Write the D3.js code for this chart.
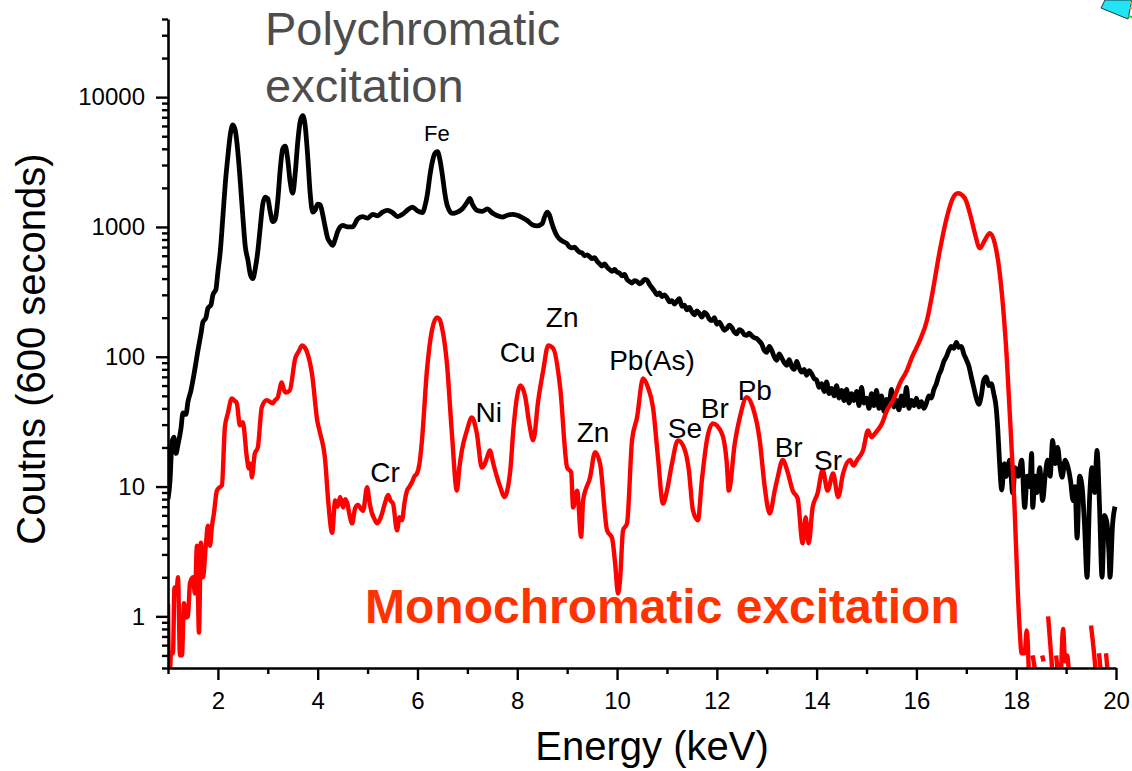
<!DOCTYPE html>
<html><head><meta charset="utf-8">
<script src="https://cdn.jsdelivr.net/npm/d3@7"></script>
<style>
html,body{margin:0;padding:0;background:#fff;}
svg{display:block;font-family:"Liberation Sans",Arial,Helvetica,sans-serif;}
</style></head>
<body>
<svg id="chart" width="1132" height="771"></svg>
<script>
// ---------- DATA ----------
const polyEnergy = [
1.00,1.04,1.08,1.12,1.16,1.20,1.26,1.30,1.36,1.40,
1.46,1.50,1.56,1.60,1.66,1.70,1.76,1.80,1.86,1.90,
1.96,2.00,2.05,2.10,2.15,2.20,2.25,2.30,2.35,2.40,
2.45,2.50,2.55,2.60,2.65,2.70,2.75,2.80,2.85,2.90,
2.95,3.00,3.05,3.10,3.15,3.20,3.25,3.30,3.35,3.40,
3.45,3.50,3.55,3.60,3.65,3.70,3.75,3.80,3.85,3.90,
3.95,4.00,4.05,4.10,4.15,4.20,4.25,4.30,4.35,4.40,
4.45,4.50,4.60,4.70,4.80,4.90,5.00,5.10,5.20,5.30,
5.40,5.50,5.60,5.70,5.80,5.90,6.00,6.10,6.15,6.20,
6.25,6.30,6.35,6.40,6.45,6.50,6.55,6.60,6.70,6.80,
6.90,7.00,7.05,7.10,7.20,7.30,7.40,7.50,7.60,7.70,
7.80,7.90,8.00,8.10,8.20,8.30,8.40,8.50,8.55,8.60,
8.65,8.70,8.80,8.90,
9.00,9.05,9.10,9.15,9.20,9.25,9.30,9.35,9.40,9.45,
9.50,9.55,9.60,9.65,9.70,9.75,9.80,9.85,9.90,9.95,
10.00,10.05,10.10,10.15,10.20,10.25,10.30,10.35,10.40,10.45,
10.50,10.55,10.60,10.65,10.70,10.75,10.80,10.85,10.90,10.95,
11.00,11.05,11.10,11.15,11.20,11.25,11.30,11.35,11.40,11.45,
11.50,11.55,11.60,11.65,11.70,11.75,11.80,11.85,11.90,11.95,
12.00,12.05,12.10,12.15,12.20,12.25,12.30,12.35,12.40,12.45,
12.50,12.55,12.60,12.65,12.70,12.75,12.80,12.85,12.90,12.95,
13.00,13.05,13.10,13.15,13.20,13.25,13.30,13.35,13.40,13.45,
13.50,13.55,13.60,13.65,13.70,13.75,13.80,13.85,13.90,13.95,
14.00,14.05,14.10,14.15,14.20,14.25,
14.30,14.35,14.40,14.45,14.50,14.55,14.60,14.65,14.70,14.75,
14.80,14.85,14.90,14.95,15.00,15.05,15.10,15.15,15.20,15.25,
15.30,15.35,15.40,15.45,15.50,15.55,15.60,15.65,15.70,15.75,
15.80,15.85,15.90,15.95,16.00,16.05,16.10,16.15,16.20,16.25,
16.30,16.35,16.40,16.45,16.50,16.55,16.60,16.65,16.70,16.75,
16.80,16.85,16.90,16.95,17.00,17.05,17.10,17.15,17.20,17.25,
17.30,17.35,17.40,17.45,17.50,17.55,17.60,17.63,17.66,17.71,
17.76,17.80,17.87,17.93,17.98,18.04,18.11,18.17,18.22,18.27,
18.31,18.33,18.38,18.42,18.47,18.53,18.58,18.63,18.68,18.73,
18.78,18.83,18.88,18.92,18.98,19.04,19.09,19.14,19.18,19.22,
19.27,19.32,19.37,19.42,19.47,19.52,19.57,19.62,19.67,19.72,
19.77,19.82,19.86,19.88,19.93,19.98
];
const polyCounts = [
8,11,22,24,18,21,28,37,36,45,
55,66,90,112,150,185,200,236,250,300,
330,450,662,1200,2200,3500,5200,6100,5500,3800,
2200,1200,700,560,430,400,480,650,1000,1500,
1700,1650,1300,1100,1150,1600,2800,4000,4200,3300,
2200,1820,2600,4500,6500,7200,6000,3500,1800,1300,
1350,1500,1480,1250,1000,820,760,720,800,920,
1000,1030,1000,1000,1150,1200,1170,1250,1220,1300,
1340,1290,1200,1250,1350,1420,1330,1290,1450,1800,
2500,3200,3700,3800,3300,2500,1800,1450,1270,1300,
1380,1560,1660,1500,1340,1320,1380,1280,1220,1190,
1230,1250,1230,1180,1120,1040,1020,1060,1200,1300,
1220,1050,850,780,
740,700,690,700,665,640,630,600,610,590,
570,580,545,520,500,520,490,470,455,470,
450,440,420,430,395,380,370,385,380,365,
375,395,390,360,340,320,300,310,290,300,
285,265,270,255,268,280,245,250,230,240,
222,210,226,215,202,220,212,195,190,200,
178,185,172,160,165,175,168,155,150,162,
158,148,146,152,145,140,138,132,125,112,
108,120,112,100,94,105,98,90,86,95,
84,80,92,82,76,80,72,78,74,68,
66,58,62,54,64,52,
57,50,60,48,55,46,56,44,52,46,
54,42,58,44,48,40,52,42,55,40,
50,38,47,42,56,41,46,39,50,42,
58,40,46,42,48,41,45,40,44,50,
48,56,62,72,80,92,100,112,120,116,
129,118,120,105,95,85,70,58,48,43,
50,66,70,60,62,52,40,28,17,9.4,
15,12,16,8.9,14,12,16,6.9,12,10,
18,6.9,12,9,14,7.8,12,16,12,22.7,
15,20,14,11.8,16,14,11,7.8,10,4,
12,10,5,2,8,14,9,19,7,2,
6,5.2,3,2,5,7
];

const monoEnergy = [
1.00,1.03,1.06,1.10,1.13,1.17,1.20,1.24,1.28,1.32,
1.36,1.40,1.44,1.50,1.54,1.58,1.62,1.66,1.70,1.76,
1.80,1.84,1.88,1.92,1.98,2.04,2.08,2.14,2.20,2.28,
2.33,2.38,2.44,2.50,2.58,2.62,2.66,2.68,2.74,2.80,
2.88,2.98,3.10,3.14,3.20,3.28,3.32,3.36,3.44,3.55,
3.62,3.69,3.74,3.79,3.89,3.99,4.05,4.15,4.21,4.29,
4.35,4.40,4.45,4.51,4.55,4.59,4.64,4.69,4.75,4.81,
4.86,4.91,4.99,5.04,5.09,5.14,5.19,5.24,5.29,5.35,
5.41,5.46,5.51,5.59,5.64,5.69,5.74,5.79,5.84,5.89,
5.94,5.99,6.04,6.09,6.19,6.29,6.39,6.44,6.49,6.59,
6.69,6.79,6.84,6.89,6.99,7.09,7.19,7.29,7.35,7.40,
7.45,7.52,7.59,7.66,7.74,7.86,7.92,8.06,8.16,8.24,
8.32,8.42,8.52,8.62,8.72,8.86,9.00,9.08,9.12,9.20,
9.28,9.32,9.46,9.56,9.66,9.80,9.90,9.96,10.02,10.06,
10.12,10.20,10.30,10.40,10.52,10.62,10.72,10.82,10.92,11.00,
11.10,11.22,11.34,11.44,11.52,11.62,11.70,11.80,11.92,12.10,
12.20,12.24,12.36,12.46,12.60,12.72,12.86,12.96,13.06,13.16,
13.22,13.32,13.42,13.52,13.62,13.72,13.78,13.84,13.92,14.02,
14.12,14.22,14.33,14.43,14.53,14.67,14.74,14.81,14.93,15.03,
15.10,15.17,15.31,15.41,15.53,15.67,15.81,15.91,16.07,16.21,
16.33,16.47,16.61,16.73,16.83,16.97,17.07,17.17,17.27,17.37,
17.47,17.57,17.67,17.81,17.91,17.96,18.02,18.07,18.11,18.17,
18.21,18.26,18.30,18.33,18.38,18.40,18.52,18.55,18.57,18.64,
18.70,18.73,18.76,18.80,18.84,18.86,18.90,18.94,18.98,19.02,
19.06,19.08,19.50,19.56,19.60,19.62,19.66,19.70,19.72,19.80,
19.84
];
const monoCounts = [
1.25,0.3,0.52,0.52,1.67,1.5,2.0,0.5,0.5,1.26,
0.98,1.0,1.8,2.0,1.5,3.5,0.75,3.7,2.0,3.6,
5.0,3.5,4.9,6.2,9.3,9.9,10.2,28.6,36.7,47.8,
46,43.8,29.6,31.3,16.8,13.8,15,11.8,18,20,
40.8,46.2,43.8,46,48.7,63.4,56,53,55,97,
110,122,118,108,72,32.5,25.7,15.9,7.8,4.4,
7.8,7.0,8.3,6.9,8.0,7.5,6.0,5.2,6.8,7.2,
6.8,6.5,9.9,7.5,6.2,5.6,5.2,5.5,6.2,7.5,
8.6,7.8,7.4,4.6,5.8,5.5,7.5,9.3,10,10.8,
12,12.6,15,22.7,78.6,160,201,195,169,89,
25.7,9.3,14,19,27,34,25.7,14,15,17,
19,15,12,9.9,8.3,13.3,27,60,49,30.6,
22.7,46,78.6,122,116,58,14,12.9,6.9,9.3,
4.1,7.8,11.8,18.4,15,4.6,4.0,2.6,1.5,1.9,
4.6,5.2,22.7,34,68,58,40.8,16.8,7.4,9.3,
15,22.7,20,13.3,6.6,5.5,11.2,22.7,30.6,25.7,
15,9.3,21.6,34,48.7,40.8,22.7,9.9,6.2,9.3,
11.8,16,12.9,9.3,8.1,3.65,5.8,3.65,6.9,8.9,
13.4,9.3,12.6,8.3,12.6,16,14.5,16,19,27,
24,25.7,30.6,38.7,46,62.5,78.6,99,134,190,
325,662,1189,1667,1820,1667,1281,897,686,790,
897,750,440,99,19,8,2.0,0.78,0.52,0.52,
0.78,0.3,null,0.5,0.38,null,0.5,0.45,null,1.0,
0.5,0.35,null,0.5,0.35,null,0.38,0.8,0.45,0.5,
0.35,null,0.85,0.52,0.35,null,0.52,0.35,null,0.52,
0.35
];

const peakLabels  = ["Fe","Cr","Ni","Cu","Zn","Zn","Pb(As)","Se","Br","Pb","Br","Sr"];
const peakEnergy  = [6.39,5.35,7.43,8.01,8.90,9.52,10.70,11.36,11.96,12.76,13.44,14.23];
const peakCounts  = [4580,10.8,31.3,90.7,169,21.9,78.7,23.5,33.6,46.2,16.8,13.3];

const xMajorTicks = [2,4,6,8,10,12,14,16,18,20];
const xMinorTicks = [1,3,5,7,9,11,13,15,17,19];
const yMajorTicks = [1,10,100,1000,10000];
const yMinorTicks = [0.4,0.5,0.6,0.7,0.8,0.9,2,3,4,5,6,7,8,9,20,30,40,50,60,70,80,90,
  200,300,400,500,600,700,800,900,2000,3000,4000,5000,6000,7000,8000,9000,20000,30000,40000];

const xTitle = "Energy (keV)";
const yTitle = "Coutns (600 seconds)";
const polyTitle = ["Polychromatic","excitation"];
const monoTitle = "Monochromatic excitation";

// ---------- CHART ----------
const svg = d3.select("#chart");
const L = 168, R = 1116, T = 19, B = 668;
const x = d3.scaleLinear().domain([1,20]).range([L,R]);
const y = d3.scaleLog().domain([0.4,40000]).range([B,T]);

const defs = svg.append("defs");
defs.append("clipPath").attr("id","plotclip").append("rect")
  .attr("x",L).attr("y",T-5).attr("width",R-L+6).attr("height",B-T+5);

// lines
const poly = polyEnergy.map((e,i)=>({e, v: polyCounts[i]}));
const mono = monoEnergy.map((e,i)=>({e, v: monoCounts[i]}));
const line = d3.line()
  .defined(d => d.v != null)
  .x(d => x(d.e))
  .y(d => y(Math.max(d.v, 0.2)))
  .curve(d3.curveMonotoneX);

const g = svg.append("g").attr("clip-path","url(#plotclip)");
g.append("path").datum(poly).attr("d",line)
  .attr("fill","none").attr("stroke","#000").attr("stroke-width",4.8)
  .attr("stroke-linejoin","round");
g.append("path").datum(mono).attr("d",line)
  .attr("fill","none").attr("stroke","#ff0000").attr("stroke-width",4.4)
  .attr("stroke-linejoin","round");

// axes
function styleAxis(sel){
  sel.selectAll("path.domain").attr("stroke","#000").attr("stroke-width",2.6);
  sel.selectAll(".tick line").attr("stroke","#000").attr("stroke-width",2.4);
  sel.selectAll(".tick text").attr("fill","#000")
    .style("font-size","24px").style("font-family","'Liberation Sans',Arial,sans-serif");
}
const xAxisMajor = svg.append("g").attr("transform",`translate(0,${B})`)
  .call(d3.axisBottom(x).tickValues(xMajorTicks).tickFormat(d3.format("d"))
    .tickSize(12).tickSizeOuter(0).tickPadding(12));
styleAxis(xAxisMajor);
const xAxisMinor = svg.append("g").attr("transform",`translate(0,${B})`)
  .call(d3.axisBottom(x).tickValues(xMinorTicks).tickFormat("").tickSize(6).tickSizeOuter(0));
styleAxis(xAxisMinor);
xAxisMinor.select("path.domain").remove();

const yAxisMajor = svg.append("g").attr("transform",`translate(${L},0)`)
  .call(d3.axisLeft(y).tickValues(yMajorTicks).tickFormat(d3.format("d"))
    .tickSize(12).tickSizeOuter(0).tickPadding(11));
styleAxis(yAxisMajor);
const yAxisMinor = svg.append("g").attr("transform",`translate(${L},0)`)
  .call(d3.axisLeft(y).tickValues(yMinorTicks).tickFormat("").tickSize(6).tickSizeOuter(0));
styleAxis(yAxisMinor);
yAxisMinor.select("path.domain").remove();

// axis titles
svg.append("text").attr("x",652).attr("y",760).attr("text-anchor","middle")
  .style("font-size","40px").attr("fill","#000").text(xTitle);
svg.append("text").attr("transform","translate(45,349) rotate(-90)").attr("text-anchor","middle")
  .style("font-size","40px").attr("fill","#000").text(yTitle);

// peak labels
svg.append("g").selectAll("text").data(peakLabels).join("text")
  .attr("x",(d,i)=>x(peakEnergy[i]))
  .attr("y",(d,i)=>y(peakCounts[i]))
  .attr("text-anchor","middle")
  .style("font-size",(d,i)=> i===0 ? "22px" : "28px")
  .attr("fill","#000")
  .text(d=>d);

// titles
const pt = svg.append("text").attr("x",265).attr("y",45)
  .style("font-size","47px").attr("fill","#4d4d4d");
pt.append("tspan").attr("x",265).attr("y",45).text(polyTitle[0]);
pt.append("tspan").attr("x",265).attr("y",102).text(polyTitle[1]);

svg.append("text").attr("x",365).attr("y",623)
  .style("font-size","48px").style("font-weight","bold").attr("fill","#ff3300")
  .text(monoTitle);

// corner decoration
svg.append("polygon").attr("points","1105,0 1101,8 1128,19 1132,0")
  .attr("fill","#22e4f6").attr("stroke","#1a3a40").attr("stroke-width",1);
svg.append("line").attr("x1",1129).attr("y1",3).attr("x2",1132).attr("y2",3).attr("stroke","#ff9900").attr("stroke-width",2);
svg.append("line").attr("x1",1129).attr("y1",8).attr("x2",1132).attr("y2",8).attr("stroke","#ff9900").attr("stroke-width",2);
svg.append("line").attr("x1",1128).attr("y1",16).attr("x2",1132).attr("y2",17).attr("stroke","#22cc22").attr("stroke-width",2);
</script>
</body></html>
